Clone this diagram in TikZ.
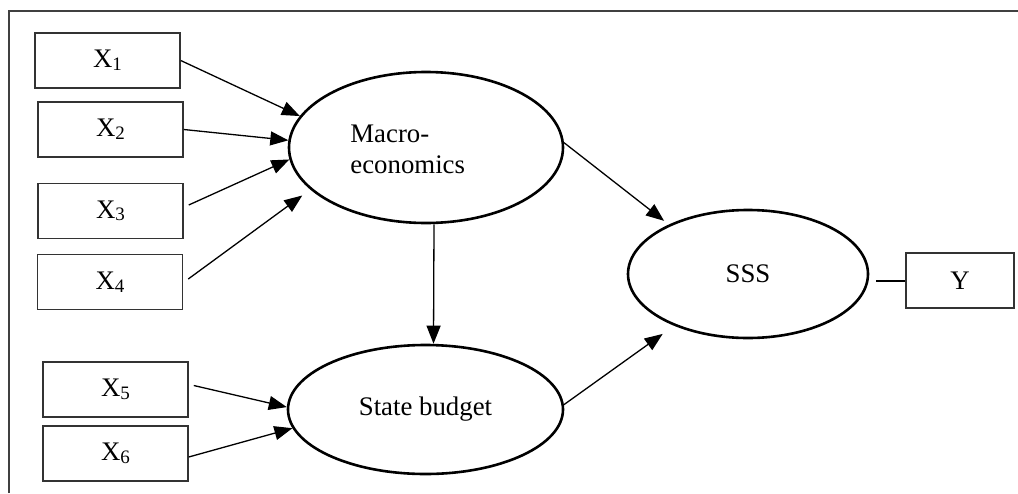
\documentclass[tikz,border=0pt]{standalone}
\usepackage{fontspec}
\setmainfont{Liberation Serif}
\usetikzlibrary{arrows.meta,shapes.geometric}
\newcommand{\Xsub}[1]{X\raisebox{-1.3pt}{\fontsize{9.5}{11}\selectfont #1}}
\begin{document}
\begin{tikzpicture}[x=0.5pt,y=-0.5pt,
  box/.style={draw=black!80,line width=0.75pt,minimum width=72.5pt,minimum height=27.5pt,inner sep=0pt,font=\fontsize{13.4}{15}\selectfont},
  lat/.style={ellipse,draw,line width=1.3pt,inner sep=0pt,font=\fontsize{13.4}{15}\selectfont},
  arr/.style={line width=0.65pt,-{Triangle[length=9pt,width=7pt]}},
  txt/.style={font=\fontsize{13.4}{15.5}\selectfont,align=left,inner sep=0pt}]
\useasboundingbox (0,0) rectangle (1018,493);
\draw[black!75,line width=0.85pt] (9,493) -- (9,11) -- (1018,11);
% observed variables
\node[box] (x1) at (107.5,60.5) {\Xsub{1}};
\node[box] (x2) at (110.5,129.5) {\Xsub{2}};
\node[box] (x3) at (110.5,211) {\Xsub{3}};
\node[box] (x4) at (110,282) {\Xsub{4}};
\node[box] (x5) at (115.5,389.5) {\Xsub{5}};
\node[box] (x6) at (115.5,453.5) {\Xsub{6}};
\node[box,minimum width=54pt] (y) at (960,280.5) {Y};
% latent variables
\node[lat,minimum width=137pt,minimum height=75.5pt] (m) at (426,147.5) {};
\node[txt,anchor=west] (mt) at (350,149) {Macro-\\economics};
\node[lat,minimum width=137.5pt,minimum height=64.5pt] (s) at (425.5,409.5) {State budget};
\node[lat,minimum width=120pt,minimum height=64pt] (sss) at (748,274) {SSS};
% connectors
\draw[arr] (x1.east) -- (m.166.5);
\draw[arr] (x2.east) -- (m.177);
\draw[arr] ([xshift=2.5pt,yshift=3pt]x3.east) -- (m.185);
\draw[arr,shorten >=5pt] ([xshift=2.5pt,yshift=1.5pt]x4.east) -- (m.200);
\draw[arr] ([xshift=4pt]m.south) -- ([xshift=4pt]s.north);
\draw[arr,shorten >=3pt] (m.2.3) -- (sss.148.5);
\draw[arr,shorten >=7pt] (s.2.3) -- (sss.215.1);
\draw[arr] ([xshift=2.5pt,yshift=2pt]x5.east) -- (s.179);
\draw[arr] ([yshift=-1.75pt]x6.east) -- (s.188.3);
\draw[line width=1pt,shorten <=3.5pt] (sss.east |- y.west) -- (y.west);
\end{tikzpicture}
\end{document}
